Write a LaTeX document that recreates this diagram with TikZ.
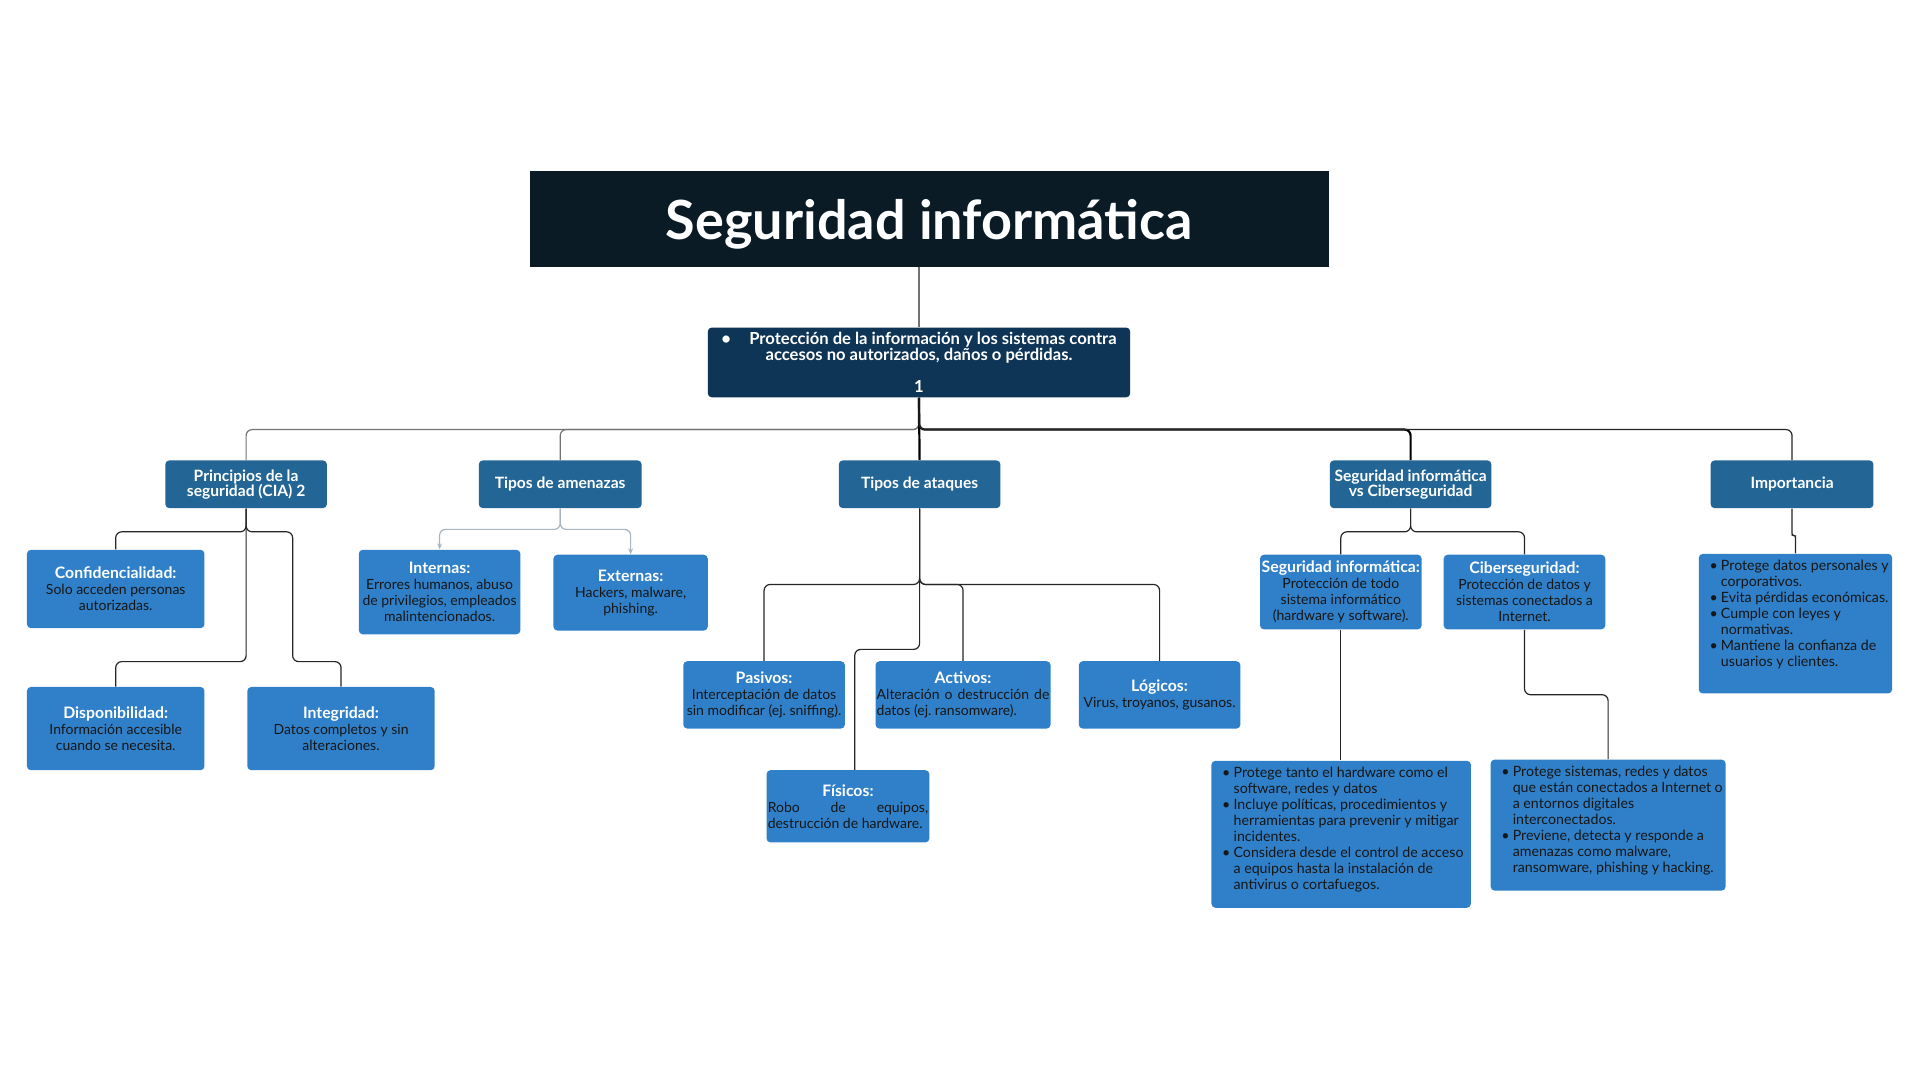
\documentclass[tikz,border=0pt]{standalone}
\usepackage{fontspec}
\setmainfont{Lato}
\usetikzlibrary{arrows.meta}

\definecolor{titlenavy}{HTML}{0A1B25}
\definecolor{defnavy}{HTML}{0F3556}
\definecolor{mainblue}{HTML}{236595}
\definecolor{leafblue}{HTML}{2F80C8}
\definecolor{bodyink}{HTML}{161616}
\definecolor{threatgrey}{HTML}{A9B5C0}

\frenchspacing
\newlength{\unitpx}
\setlength{\unitpx}{0.612245pt}
\newcommand{\head}[1]{{\color{white}\bfseries\fontsize{7.9}{8}\selectfont #1}}
\newcommand{\bul}{\par\hangindent=1.35em\hangafter=1\noindent\makebox[1.35em][l]{\hspace{0.55em}\textbullet}}
\newcommand{\listtext}[3]{\parbox[t][#1\unitpx][t]{#2\unitpx}{\raggedright #3}}

\tikzset{
  sized/.style 2 args={minimum width=#1*\unitpx, minimum height=#2*\unitpx},
  titlebox/.style={fill=titlenavy, text=white, align=center, inner sep=0.5pt, text depth=0pt,
    font=\fontsize{27}{30}\selectfont\bfseries},
  defbox/.style={fill=defnavy, text=white, align=center, inner sep=0.5pt, rounded corners=2pt,
    font=\fontsize{8.3}{8}\selectfont\bfseries},
  mainbox/.style={fill=mainblue, text=white, align=center, inner sep=0.5pt, rounded corners=2pt,
    font=\fontsize{7.8}{7.6}\selectfont\bfseries},
  leafbox/.style={fill=leafblue, text=bodyink, align=center, inner sep=0.5pt, rounded corners=2pt,
    font=\fontsize{7}{8}\selectfont},
  listbox/.style={fill=leafblue, text=bodyink, anchor=north west, rounded corners=2pt,
    inner xsep=1.5pt, inner ysep=3.06pt, font=\fontsize{7.1}{8}\selectfont},
  link/.style={draw=black!85, line width=0.6pt, rounded corners=3pt},
  greylink/.style={link, draw=black!55},
  thicklink/.style={link, draw=black, line width=1.1pt},
  threatlink/.style={draw=threatgrey, line width=0.6pt, rounded corners=3pt,
    -{Stealth[length=3pt, width=2.4pt]}}
}

\begin{document}
\begin{tikzpicture}[x=0.612245pt, y=-0.612245pt, font=\fontsize{7}{8}\selectfont]
\useasboundingbox (0,0) rectangle (1568,882);
\fill[white] (0,0) rectangle (1568,882);

% ---------- title and definition ----------
\node[titlebox, sized={652}{78}] (title) at (759,179) {Seguridad informática};
\node[defbox, sized={345}{57}] (def) at (750.5,296)
  {\textbullet\hspace{1.1em}Protección de la información y los sistemas contra\\
   accesos no autorizados, daños o pérdidas.\\[8pt]1};

% ---------- main branches ----------
\node[mainbox, sized={132}{39}] (cia) at (201,395.5) {Principios de la\\seguridad (CIA) 2};
\node[mainbox, sized={133}{39}] (amen) at (457.5,395.5) {Tipos de amenazas};
\node[mainbox, sized={132}{39}] (ataq) at (751,395.5) {Tipos de ataques};
\node[mainbox, sized={132}{39}] (vs) at (1152,395.5) {Seguridad informática\\vs Ciberseguridad};
\node[mainbox, sized={133}{39}] (impo) at (1463.5,395.5) {Importancia};

% ---------- CIA ----------
\node[leafbox, sized={145}{64}] (conf) at (94.5,481)
  {\head{Confidencialidad:}\\Solo acceden personas\\autorizadas.};
\node[leafbox, sized={145}{68}] (disp) at (94.5,595)
  {\head{Disponibilidad:}\\Información accesible\\cuando se necesita.};
\node[leafbox, sized={153}{68}] (integ) at (278.5,595)
  {\head{Integridad:}\\Datos completos y sin\\alteraciones.};

% ---------- amenazas ----------
\node[leafbox, sized={132}{69}] (inter) at (359,483.5)
  {\head{Internas:}\\Errores humanos, abuso\\de privilegios, empleados\\malintencionados.};
\node[leafbox, sized={126}{62}] (exter) at (515,484)
  {\head{Externas:}\\Hackers, malware,\\phishing.};

% ---------- ataques ----------
\node[leafbox, sized={132}{55}] (pasiv) at (624,567.5)
  {\head{Pasivos:}\\Interceptación de datos\\sin modificar (ej. sniffing).};
\node[leafbox, sized={143}{55}] (activ) at (786.5,567.5)
  {\head{Activos:}\\\makebox[141\unitpx][l]{Alteración\hfill o\hfill destrucción\hfill de}\\
   \makebox[141\unitpx][l]{datos (ej. ransomware).}};
\node[leafbox, sized={132}{55}] (logic) at (947,567.5)
  {\head{Lógicos:}\\Virus, troyanos, gusanos.};
\node[leafbox, sized={133}{59}] (fisic) at (692.5,658.5)
  {\head{Físicos:}\\\makebox[131\unitpx][l]{Robo\hfill de\hfill equipos,}\\
   \makebox[131\unitpx][l]{destrucción de hardware.}};

% ---------- informatica vs ciber ----------
\node[leafbox, sized={132}{61}] (sinf) at (1095,483.5)
  {\head{Seguridad informática:}\\Protección de todo\\sistema informático\\(hardware y software).};
\node[leafbox, sized={132}{61}] (ciber) at (1245,483.5)
  {\head{Ciberseguridad:}\\Protección de datos y\\sistemas conectados a\\Internet.};
\node[listbox] (sinfl) at (989,621) {\listtext{110}{207}{%
  \bul Protege tanto el hardware como el\newline software, redes y datos
  \bul Incluye políticas, procedimientos y\newline herramientas para prevenir y mitigar\newline incidentes.
  \bul Considera desde el control de acceso\newline a equipos hasta la instalación de\newline antivirus o cortafuegos.}};
\node[listbox] (ciberl) at (1217,620) {\listtext{97}{187}{%
  \bul Protege sistemas, redes y datos\newline que están conectados a Internet o\newline a entornos digitales\newline interconectados.
  \bul Previene, detecta y responde a\newline amenazas como malware,\newline ransomware, phishing y hacking.}};

% ---------- importancia ----------
\node[listbox] (impol) at (1387,452) {\listtext{104}{153}{%
  \bul Protege datos personales y\newline corporativos.
  \bul Evita pérdidas económicas.
  \bul Cumple con leyes y\newline normativas.
  \bul Mantiene la confianza de\newline usuarios y clientes.}};

% ---------- connectors ----------
\draw[greylink] (def.north) -- (def.north |- title.south);
\draw[greylink] (def.south) -- ++(0,26) -| (cia.north);
\draw[greylink] (def.south) -- ++(0,26) -| (amen.north);
\draw[thicklink] (def.south) -- (ataq.north);
\draw[thicklink] (def.south) -- ++(0,26) -| (vs.north);
\draw[link] (def.south) -- ++(0,26) -| (impo.north);

\draw[link] (cia.south) -- ++(0,19) -| (conf.north);
\draw[link] (cia.south) -- ++(0,19) -| ++(38,106) -| (integ.north);
\draw[link] (cia.south) -- ++(0,125) -| (disp.north);

\draw[threatlink] (amen.south) -- ++(0,17) -| (inter.north);
\draw[threatlink] (amen.south) -- ++(0,17) -| (exter.north);

\draw[link] (ataq.south) -- ++(0,62) -| (pasiv.north);
\draw[link] (ataq.south) -- ++(0,62) -| (activ.north);
\draw[link] (ataq.south) -- ++(0,62) -| (logic.north);
\draw[link] (ataq.south) -- ++(0,115) -| ([xshift=3.4pt]fisic.north);

\draw[link] (vs.south) -- ++(0,19) -| (sinf.north);
\draw[link] (vs.south) -- ++(0,19) -| (ciber.north);
\draw[link] (sinf.south) -- (sinfl.north -| sinf.south);
\draw[link] (ciber.south) -- ++(0,53) -| (ciberl.north);

\draw[link, rounded corners=1pt] (impo.south) -- ++(0,22) -| (impol.north);
\end{tikzpicture}
\end{document}
